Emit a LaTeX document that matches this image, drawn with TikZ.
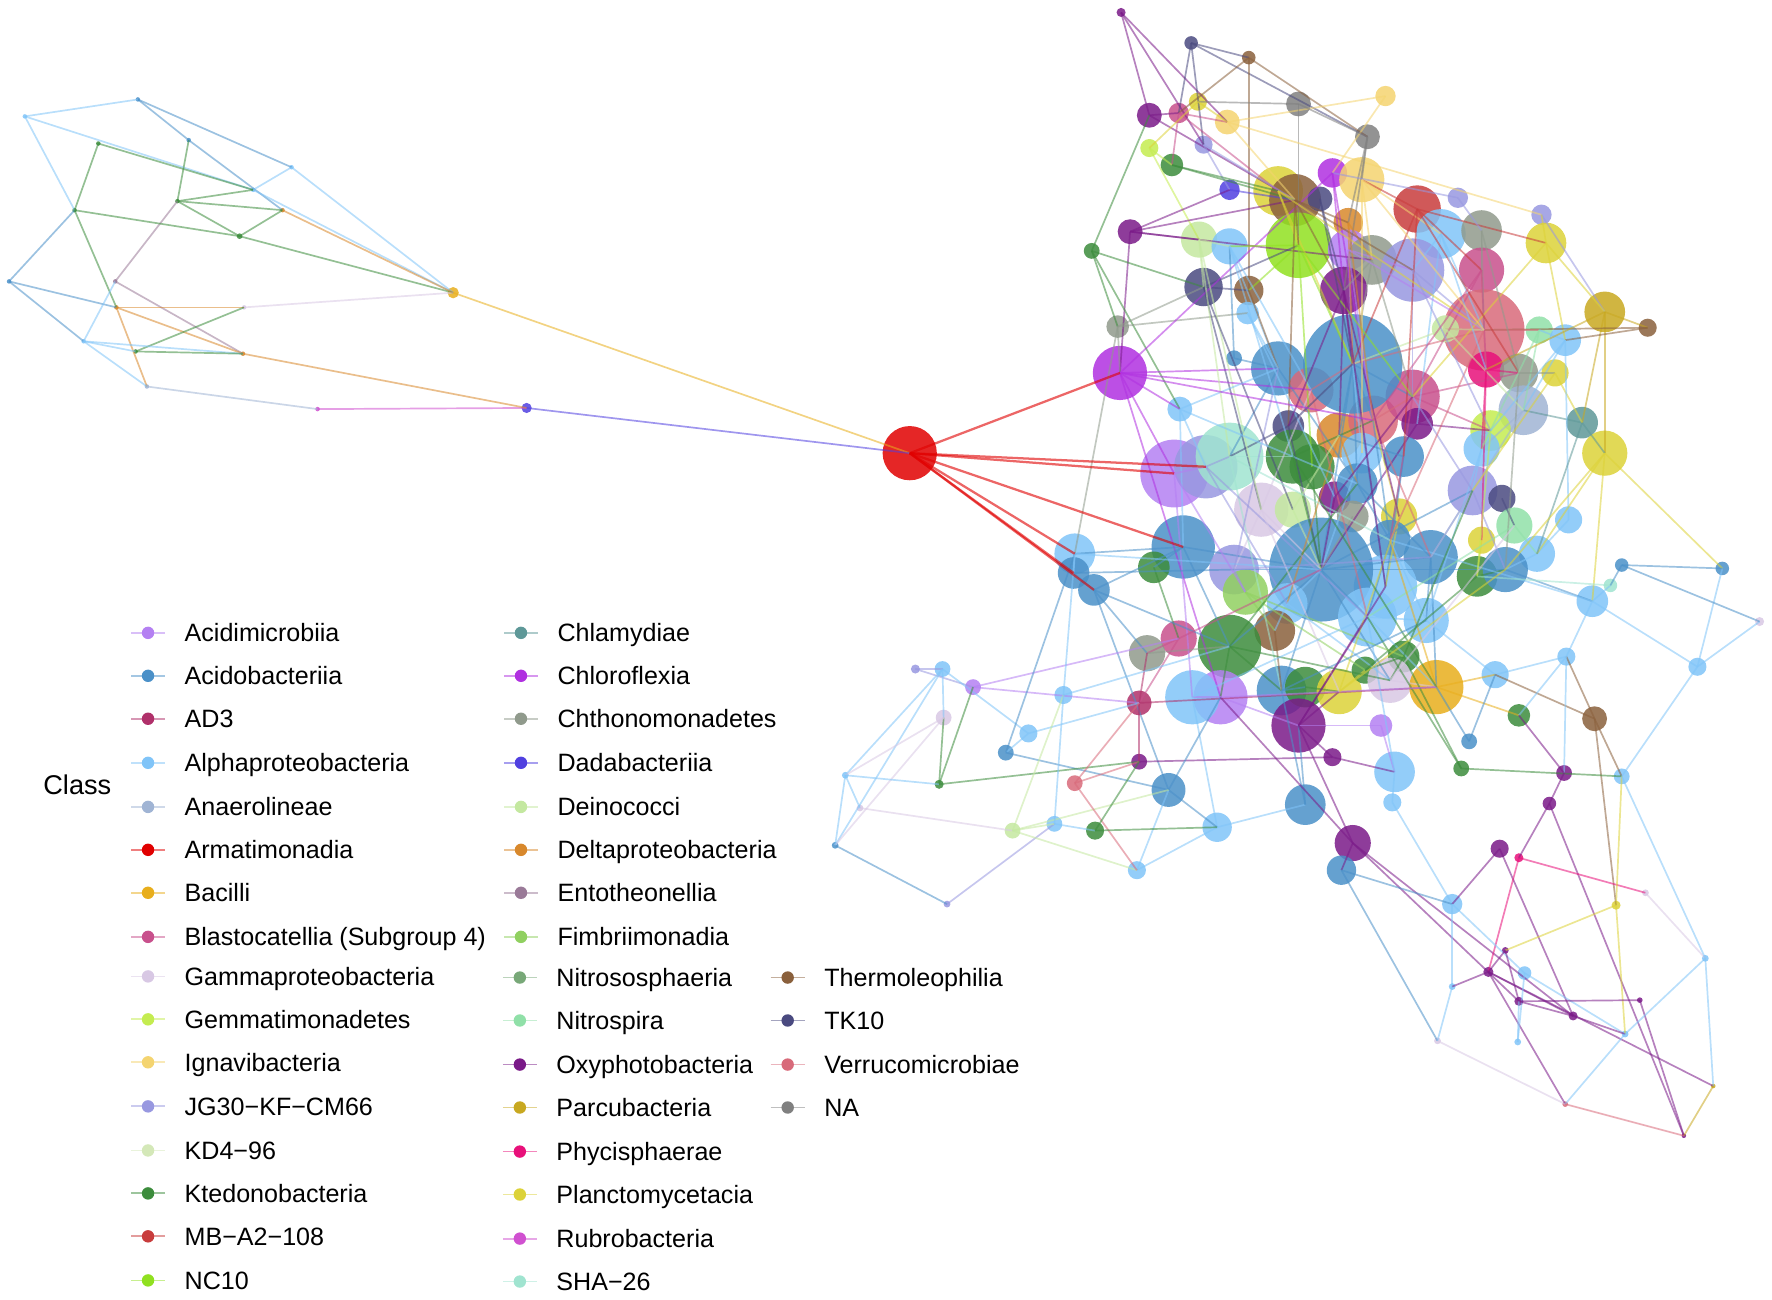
\documentclass[tikz,border=0pt]{standalone}
\usepackage{fontspec}
\setmainfont{Liberation Sans}

% class colours
\definecolor{cAcidim}{HTML}{B480F2}
\definecolor{cAcidob}{HTML}{4A90C8}
\definecolor{cAdthree}{HTML}{B0306A}
\definecolor{cAlpha}{HTML}{80C4F8}
\definecolor{cAnaero}{HTML}{A0B4D4}
\definecolor{cArmat}{HTML}{E00000}
\definecolor{cBacil}{HTML}{E8AE1C}
\definecolor{cBlasto}{HTML}{C8508C}
\definecolor{cGamma}{HTML}{D8C8E4}
\definecolor{cGemma}{HTML}{C4EC50}
\definecolor{cIgnav}{HTML}{F4D470}
\definecolor{cJgthir}{HTML}{9898E0}
\definecolor{cKdfour}{HTML}{D4E8B8}
\definecolor{cKted}{HTML}{3C8C3C}
\definecolor{cMbatwo}{HTML}{C83C3C}
\definecolor{cNcten}{HTML}{90E020}
\definecolor{cChlam}{HTML}{5E9898}
\definecolor{cChlorof}{HTML}{B030E0}
\definecolor{cChthon}{HTML}{909A8C}
\definecolor{cDadab}{HTML}{5040E0}
\definecolor{cDeino}{HTML}{C4E8A0}
\definecolor{cDelta}{HTML}{D8882C}
\definecolor{cEntot}{HTML}{9A7A98}
\definecolor{cFimbr}{HTML}{90D060}
\definecolor{cNsphae}{HTML}{78A878}
\definecolor{cNspira}{HTML}{90E0A8}
\definecolor{cOxyph}{HTML}{7A1A88}
\definecolor{cParcu}{HTML}{C8A820}
\definecolor{cPhyci}{HTML}{E8107A}
\definecolor{cPlanc}{HTML}{DCD238}
\definecolor{cRubro}{HTML}{D050D0}
\definecolor{cSha}{HTML}{A0E4D0}
\definecolor{cTherm}{HTML}{8A603C}
\definecolor{cTkten}{HTML}{4A4A80}
\definecolor{cVerru}{HTML}{D86A7A}
\definecolor{cNacls}{HTML}{808080}

\tikzset{
  otu/.style={circle, inner sep=0pt, draw=none, fill opacity=0.85},
  link/.style={line width=0.75pt, draw opacity=0.55},
  hublink/.style={line width=1pt, draw opacity=0.6},
  keyline/.style={line width=0.8pt, draw opacity=0.5},
  keydot/.style={circle, inner sep=0pt, minimum size=5.5pt},
  keylabel/.style={anchor=base west, inner sep=0pt, font=\fontsize{11.1}{13}\selectfont},
}

\begin{document}
\begin{tikzpicture}[x=0.5pt, y=-0.5pt]
  \useasboundingbox (0,0) rectangle (1568,1150);

  % network nodes: name/x/y/radius/class colour
  \foreach \nm/\xx/\yy/\rr/\cl in {
    a1/22/103/2/cAlpha, a2/122/88/2/cAcidob, a3/167/124/2/cAcidob, a4/258/148/2/cAlpha,
    a5/87/127/2/cKted, a6/157/178/2/cKted, a7/224/168/2/cAlpha, a8/250/186/2/cDelta,
    a9/212/209/2.5/cKted, a10/66/186/2/cKted, a11/8/249/2/cAcidob, a12/102/249/2/cEntot,
    a13/103/272/2/cDelta, a14/216/272/2/cGamma, a15/74/302/2/cAlpha, a16/120/311/2/cKted,
    a17/215/313/2/cDelta, a18/130/342/2/cAnaero, a19/281/362/2/cRubro,
    bac/401/259/5/cBacil, dad/466/361/4.5/cDadab, arm/805/401/24/cArmat,
    b1/992/11/4/cOxyph, b2/1054/38/6/cTkten, b3/1105/51/6/cTherm, b4/1226/85/9/cIgnav,
    b5/1149/92/11/cNacls, b6/1017/102/11/cOxyph, b7/1043/100/9/cBlasto, b8/1060/90/8/cPlanc,
    b9/1086/108/11/cIgnav, b10/1210/121/11/cNacls, b11/1017/131/8/cGemma, b12/1065/128/8/cJgthir,
    b13/1037/146/10/cKted, b14/1088/168/9/cDadab, b15/1131/169/22/cPlanc, b16/1146/177/23/cTherm,
    b17/1168/176/11/cTkten, b18/1179/153/13/cChlorof, b19/1205/159/20/cIgnav, b20/1149/217/29/cNcten,
    b21/1193/197/13/cDelta, b22/1254/185/21/cMbatwo, b23/1290/175/9/cJgthir, b24/1275/207/22/cAlpha,
    b25/1311/204/18/cChthon, b26/1364/190/9/cJgthir, b27/1368/215/18/cPlanc, b28/1000/205/11/cOxyph,
    b29/966/222/7/cKted, b30/1061/212/16/cDeino, b31/1088/218/16/cAlpha, b32/1193/221/18/cAcidim,
    b33/1214/230/22/cChthon, b34/1250/239/28/cJgthir, b35/1311/239/20/cBlasto, b36/1189/257/21/cOxyph,
    b37/1065/254/17/cTkten, b38/1105/257/13/cTherm, b39/989/289/10/cChthon, b40/1104/277/10/cAlpha,
    b41/1313/292/36/cVerru, b42/1279/291/12/cDeino, b43/1362/292/12/cNspira, b44/1385/301/14/cAlpha,
    b45/1420/276/18/cParcu, b46/1458/290/8/cTherm, b47/991/330/24/cChlorof, b48/1092/317/7/cAcidob,
    b49/1131/326/24/cAcidob, b51/1160/345/20/cVerru, b61/1185/385/20/cDelta, b62/1215/372/22/cVerru,
    b52/1250/351/24/cBlasto, b50/1197/322/44/cAcidob, b53/1315/327/16/cPhyci, b54/1344/330/17/cChthon,
    b55/1376/330/12/cPlanc, b56/1348/363/22/cAnaero, b57/1400/374/14/cChlam, b58/1420/401/20/cPlanc,
    b59/1044/362/11/cAlpha, b60/1140/377/14/cTkten, b180/1254/375/14/cOxyph, b63/1319/381/18/cGemma,
    b64/1311/397/16/cAlpha, b65/1039/419/30/cAcidim, b66/1067/413/28/cJgthir, b67/1088/404/30/cSha,
    b68/1144/404/24/cKted, b69/1161/413/20/cKted, b70/1205/401/18/cAlpha, b71/1242/404/18/cAcidob,
    b72/1181/440/14/cOxyph, b73/1201/428/18/cAcidob, b74/1238/457/16/cPlanc, b75/1197/457/14/cChthon,
    b76/1116/451/24/cGamma, b77/1144/451/16/cDeino, b78/1303/434/22/cJgthir, b79/1329/441/12/cTkten,
    b80/1340/465/16/cNspira, b81/1311/478/12/cPlanc, b82/1388/460/12/cAlpha, b83/1360/490/16/cAlpha,
    b84/1266/493/24/cAcidob, b85/1307/510/18/cKted, b86/1332/504/20/cAcidob, b87/1230/478/18/cAcidob,
    b88/1226/519/28/cAlpha, b90/1047/484/28/cAcidob, b91/1021/502/14/cKted, b92/1092/504/22/cJgthir,
    b93/1102/524/20/cFimbr, b89/1169/504/46/cAcidob, b94/1139/534/18/cAlpha, b95/1128/558/18/cTherm,
    b96/1210/546/26/cAlpha, b97/1262/549/20/cAlpha, b98/951/490/18/cAlpha, b99/950/507/14/cAcidob,
    b100/968/522/14/cAcidob, b101/1043/565/16/cBlasto, b102/1015/578/16/cChthon, b103/1088/572/28/cKted,
    b104/1080/617/24/cAcidim, b105/1055/617/24/cAlpha, b106/1134/611/22/cAcidob, b107/1155/608/18/cKted,
    b108/1149/642/24/cOxyph, b109/1185/612/20/cPlanc, b110/1208/593/12/cKted, b111/1242/581/14/cKted,
    b112/1230/602/20/cGamma, b113/1271/608/24/cBacil, b114/1222/642/10/cAcidim, b115/1323/597/12/cAlpha,
    b116/1344/633/10/cKted, b117/1411/636/11/cTherm, b118/1502/590/8/cAlpha, b119/1409/532/14/cAlpha,
    b120/1425/518/6/cSha, b121/1435/500/6/cAcidob, b122/1524/503/6/cAcidob, b123/1557/550/4/cGamma,
    b124/1386/581/8/cAlpha, b125/1008/622/11/cAdthree, b127/1008/674/7/cOxyph, b129/1034/699/15/cAcidob,
    b132/1077/732/13/cAlpha, b133/1155/712/18/cAcidob, b134/1179/670/8/cOxyph, b135/1234/683/18/cAlpha,
    b136/1232/710/8/cAlpha, b137/1197/746/16/cOxyph, b138/1187/770/13/cAcidob, b139/1300/656/7/cAcidob,
    b140/1293/680/7/cKted, b141/1384/684/7/cOxyph, b142/1435/687/7/cAlpha, b143/1371/711/6/cOxyph,
    b144/1327/751/8/cOxyph, b145/1344/759/4/cPhyci, b146/1456/790/3/cGamma, b147/1006/770/8/cAlpha,
    b148/1285/800/9/cAlpha, b149/1430/801/4/cPlanc, b150/1332/841/3/cOxyph, b151/1317/860/4.5/cOxyph,
    b152/1349/861/6/cAlpha, b153/1285/873/3/cAlpha, b154/1344/886/4/cOxyph, b155/1392/899/4/cOxyph,
    b156/1451/885/2.5/cOxyph, b157/1438/915/3/cAlpha, b158/1509/848/3/cAlpha, b159/1516/961/2/cParcu,
    b160/1343/922/3/cAlpha, b161/1272/921/3/cGamma, b162/1385/977/2.5/cVerru, b163/1490/1005/2/cOxyph,
    b164/810/592/4/cJgthir, b165/834/592/7/cAlpha, b166/861/608/7/cAcidim, b167/835/635/7/cGamma,
    b168/910/649/8/cAlpha, b169/890/666/7/cAcidob, b170/941/615/8/cAlpha, b171/748/686/3/cAlpha,
    b172/831/694/4/cKted, b173/761/715/3/cGamma, b174/739/748/3/cAcidob, b175/896/735/7/cDeino,
    b176/933/729/7/cAlpha, b177/951/693/7/cVerru, b178/969/735/8/cKted, b179/838/800/3/cJgthir}{
    \expandafter\xdef\csname nc\nm\endcsname{\cl}
    \node[otu, fill=\cl, minimum size=\rr pt] (\nm) at (\xx,\yy) {};
  }

  % edges, coloured by their first end
  \foreach \p/\q in {
    a1/a2, a1/a7, a1/a10, a2/a3, a2/a4, a3/a8, a6/a3, a4/a7, a4/bac, a5/a7, a5/a10, a7/bac,
    a6/a7, a6/a8, a6/a9, a12/a6, a9/a8, a9/bac, a10/a9, a11/a10, a10/a13, a11/a13, a11/a15,
    a15/a12, a12/a17, a13/a14, a13/a17, a13/a18, a14/bac, a16/a14, a15/a16, a15/a17, a16/a17,
    a15/a18, a18/a19, a19/dad, a17/dad, a8/bac, bac/arm, dad/arm,
    b1/b6, b1/b12, b1/b9, b2/b3, b2/b7, b2/b12, b2/b10, b3/b10, b3/b7, b3/b38, b4/b18, b4/b9,
    b5/b8, b5/b10, b5/b20, b6/b7, b6/b16, b29/b6, b7/b13, b7/b9, b7/b15, b8/b9, b8/b11, b9/b26,
    b9/b16, b10/b21, b10/b36, b10/b19, b11/b13, b11/b30, b12/b14, b12/b16, b13/b16, b13/b15,
    b14/b16, b28/b14, b28/b16, b28/b47, b28/b30, b28/b33, b29/b39, b29/b37, b29/b59,
    b39/b37, b39/b47, b39/b40, b39/b98, b37/b20, b37/b76, b37/b38, b47/b49, b47/b59, b47/b104,
    b47/b18, b47/b65, b48/b49, b48/b31, b22/b35, b22/b27, b22/b19, b23/b25, b23/b18, b26/b45,
    b27/b45, b27/b44, b27/b26, b45/b46, b45/b58, b45/b57, b46/b44, b46/b41, b41/b53, b41/b43,
    b41/b35, b41/b42, b41/b50, b44/b43, b44/b56, b57/b58, b57/b56, b58/b122, b58/b119,
    b15/b16, b15/b20, b15/b50, b16/b20, b16/b36, b16/b21, b17/b50, b18/b36, b19/b24, b19/b33,
    b20/b50, b20/b31, b20/b38, b21/b33, b22/b50, b24/b34, b24/b41, b25/b35, b25/b41, b30/b31,
    b30/b37, b31/b49, b32/b50, b32/b34, b33/b50, b34/b52, b34/b41, b35/b53, b36/b50, b36/b61,
    b38/b49, b40/b49, b42/b41, b43/b56, b49/b67, b50/b61, b50/b62, b50/b89, b50/b88, b50/b52,
    b50/b73, b51/b50, b52/b54, b52/b63, b53/b54, b54/b55, b55/b57, b56/b64, b59/b66, b59/b90,
    b60/b67, b60/b89, b61/b73, b62/b52, b180/b89, b180/b63, b63/b64, b64/b78, b65/b66, b65/b105,
    b66/b67, b67/b68, b68/b89, b69/b89, b70/b89, b71/b87, b71/b88, b72/b89, b73/b87, b74/b88,
    b75/b89, b76/b89, b76/b92, b77/b89, b78/b86, b78/b84, b79/b80, b80/b83, b81/b85, b82/b83,
    b82/b44, b83/b86, b84/b97, b84/b113, b85/b86, b86/b119, b87/b96, b88/b96, b89/b90, b89/b92,
    b89/b96, b89/b84, b89/b106, b89/b112, b89/b103, b89/b86, b89/b78, b90/b91, b90/b98, b90/b100,
    b90/b103, b91/b101, b92/b93, b93/b95, b94/b95, b96/b97, b96/b113, b97/b115, b98/b99, b98/b89,
    b99/b100, b99/b92, b100/b102, b100/b129, b100/b103, b101/b102, b101/b125, b102/b103,
    b103/b104, b103/b106, b104/b105, b104/b108, b105/b132, b106/b107, b107/b109, b108/b109,
    b108/b134, b109/b110, b110/b111, b111/b112, b112/b113, b113/b115, b113/b116, b114/b108,
    b114/b135, b115/b124, b117/b115, b117/b124, b117/b142, b117/b149, b118/b119, b118/b142,
    b118/b122, b118/b123, b119/b120, b119/b124, b119/b87, b120/b85, b121/b120, b121/b123,
    b121/b122, b124/b116, b124/b141, b125/b113, b125/b102, b125/b127, b127/b134, b129/b104,
    b129/b132, b132/b133, b133/b108, b133/b106, b134/b135, b135/b136, b135/b96, b136/b148,
    b137/b138, b137/b108, b137/b104, b137/b155, b137/b154, b138/b161, b138/b148, b139/b115,
    b139/b113, b140/b142, b140/b96, b140/b111, b141/b116, b141/b143, b143/b145, b143/b163,
    b144/b155, b144/b148, b145/b146, b145/b151, b146/b158, b147/b132, b147/b129, b148/b152,
    b148/b153, b149/b150, b149/b157, b149/b142, b150/b154, b150/b151, b151/b155, b151/b162,
    b151/b153, b151/b159, b152/b157, b152/b160, b153/b161, b154/b156, b154/b155, b155/b157,
    b156/b163, b157/b158, b157/b162, b158/b142, b158/b159, b159/b163, b161/b162, b162/b163,
    b160/b154, b164/b166, b164/b165, b165/b171, b165/b174, b165/b168, b165/b167, b166/b125,
    b166/b101, b172/b166, b172/b167, b167/b174, b167/b171, b168/b169, b168/b125, b169/b129,
    b169/b98, b171/b173, b171/b174, b171/b172, b172/b127, b173/b175, b174/b179, b179/b176,
    b175/b176, b175/b170, b175/b147, b175/b129, b176/b178, b176/b170, b177/b147, b177/b125,
    b177/b127, b178/b132, b178/b127, b170/b103, b170/b98,
    b18/b62, b21/b50, b24/b180, b32/b62, b33/b36, b35/b52, b42/b50, b49/b73, b51/b96, b52/b87,
    b53/b81, b54/b86, b61/b94, b62/b84, b63/b85, b64/b97, b67/b106, b66/b94, b65/b93, b68/b62,
    b70/b50, b71/b61, b74/b62, b76/b51, b78/b52, b80/b96, b84/b73, b87/b62, b92/b49, b93/b110,
    b94/b89, b97/b87, b103/b73, b108/b88, b109/b74, b113/b87, b20/b69, b16/b60, b36/b74,
    b31/b51, b40/b72, b30/b76, b37/b77, b19/b70, b22/b71, b41/b87, b56/b84, b58/b83, b27/b52,
    b45/b53, b47/b51, b59/b49, b60/b50, b72/b52, b77/b61, b20/b52, b15/b41, b16/b34, b36/b88,
    b31/b68, b30/b67, b47/b62, b59/b73, b66/b96, b67/b87, b68/b113, b76/b109, b92/b84,
    b93/b111, b94/b112, b95/b106, b103/b112, b101/b89, b104/b113, b105/b96, b106/b97,
    b108/b96, b109/b86, b110/b85, b111/b78, b112/b80, b21/b62, b22/b54, b24/b53, b25/b54,
    b33/b52, b32/b41, b34/b63, b35/b62, b42/b56, b43/b64, b44/b63, b55/b78, b57/b83, b58/b86,
    b53/b64, b36/b60, b17/b36, b19/b41}{
    \edef\ec{\csname nc\p\endcsname}
    \draw[link, draw=\ec] (\p.center) -- (\q.center);
  }

  % the Armatimonadia hub
  \foreach \q in {b47, b65, b66, b90, b98, b99, b100}
    \draw[hublink, draw=cArmat] (arm.center) -- (\q.center);

  % legend
  \node[anchor=base west, inner sep=0pt, font=\fontsize{12}{14}\selectfont] (cls) at (38,703) {Class};
  \foreach \lab/\cl/\kx/\yy [count=\i] in {
    Acidimicrobiia/cAcidim/131/560, Acidobacteriia/cAcidob/131/598, AD3/cAdthree/131/636,
    Alphaproteobacteria/cAlpha/131/675, Anaerolineae/cAnaero/131/714, Armatimonadia/cArmat/131/752,
    Bacilli/cBacil/131/790, Blastocatellia (Subgroup 4)/cBlasto/131/829,
    Gammaproteobacteria/cGamma/131/864, Gemmatimonadetes/cGemma/131/902,
    Ignavibacteria/cIgnav/131/940, JG30−KF−CM66/cJgthir/131/979, KD4−96/cKdfour/131/1018,
    Ktedonobacteria/cKted/131/1056, MB−A2−108/cMbatwo/131/1094, NC10/cNcten/131/1133,
    Chlamydiae/cChlam/461/560, Chloroflexia/cChlorof/461/598, Chthonomonadetes/cChthon/461/636,
    Dadabacteriia/cDadab/461/675, Deinococci/cDeino/461/714, Deltaproteobacteria/cDelta/461/752,
    Entotheonellia/cEntot/461/790, Fimbriimonadia/cFimbr/461/829, Nitrososphaeria/cNsphae/460/865,
    Nitrospira/cNspira/460/903, Oxyphotobacteria/cOxyph/460/942, Parcubacteria/cParcu/460/980,
    Phycisphaerae/cPhyci/460/1019, Planctomycetacia/cPlanc/460/1057, Rubrobacteria/cRubro/460/1096,
    SHA−26/cSha/460/1134,
    Thermoleophilia/cTherm/697/865, TK10/cTkten/697/903, Verrucomicrobiae/cVerru/697/942,
    NA/cNacls/697/980}{
    \draw[keyline, draw=\cl] ({\kx-15},\yy) -- ({\kx+15},\yy);
    \node[keydot, fill=\cl] (kd\i) at (\kx,\yy) {};
    \node[keylabel] (kl\i) at ({\kx+32},{\yy+8}) {\lab};
  }
\end{tikzpicture}
\end{document}
